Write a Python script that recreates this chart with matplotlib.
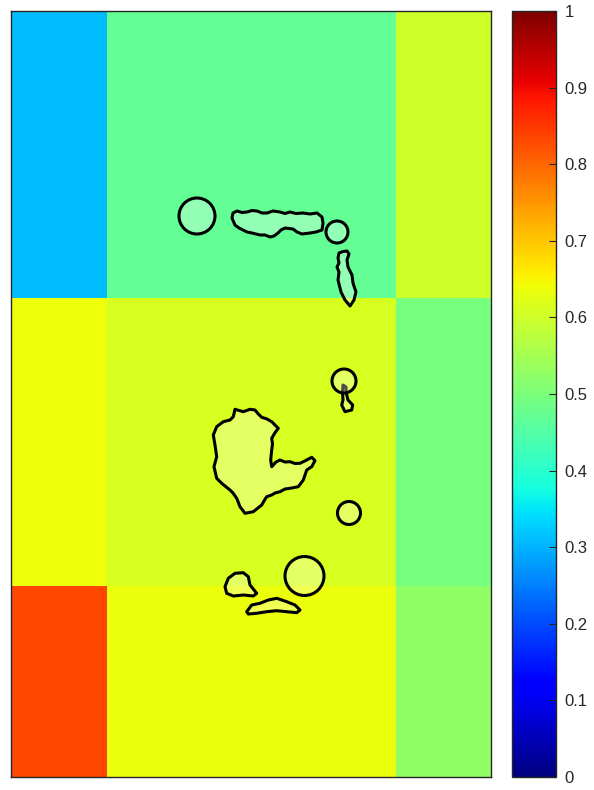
import numpy as np
import matplotlib
matplotlib.use('Agg')
import matplotlib.pyplot as plt
from matplotlib.patches import Polygon, Circle

plt.rcParams['font.family'] = ['Liberation Sans', 'DejaVu Sans']

# grid cell edges (map units) and cell values
x_edges = [11, 107, 396, 491]
y_edges = [11, 298, 586, 777]
cell_values = [
    [0.31, 0.47, 0.60],
    [0.64, 0.61, 0.495],
    [0.835, 0.635, 0.525],
]

# island outlines (x, y) in map units
island_long = [(233, 213), (237, 211), (242, 212.5), (247, 212), (252, 210.5), (257, 211),
               (262, 213), (267, 213), (273, 211), (280, 212), (285, 213.5), (290, 212),
               (296, 213.5), (303, 213), (310, 214), (317, 213), (322, 217), (323, 223),
               (322, 230), (316, 232), (310, 233), (302, 234), (297, 232), (293, 229),
               (285, 228), (281, 230), (278, 233), (274, 236), (270, 237), (265, 235),
               (260, 235), (256, 234), (252, 233), (247, 232), (243, 230), (239, 228),
               (235, 225), (232, 218)]
island_north = [(339, 253), (343, 251.5), (347, 251), (349, 254), (347, 260), (348, 267),
                (352, 275), (353, 283), (356, 292), (354, 300), (350, 306), (345, 300),
                (341, 292), (338, 280), (339, 272), (337, 267), (339, 263), (338, 258)]
island_tail = [(343, 385), (346, 387), (346, 392), (348, 400), (352.7, 405), (351.7, 410),
               (345, 411.7), (341.7, 405), (343, 400), (342.5, 392)]
island_big = [(235, 409.3), (243.3, 411.7), (250, 409.3), (255, 410), (258.3, 414),
              (261.7, 417.3), (267, 419), (271.7, 421.7), (278.3, 428.3), (275, 432.7),
              (271.7, 438.3), (272.5, 444), (271.7, 450), (270.7, 460), (271.7, 466.7),
              (276, 462), (280, 460), (285, 462), (290, 461.7), (295, 463.5), (300, 463.3),
              (306.7, 460), (311.7, 457.3), (315, 460.7), (311.7, 466.7), (306.7, 470),
              (305, 475), (303.3, 480), (298.3, 486.7), (290, 488.3), (285, 489),
              (280, 491.7), (275, 493), (271.7, 495), (266.7, 496.7), (264, 501),
              (261.7, 505), (253.3, 511.7), (245, 513.3), (240, 506.7), (236.7, 498.3),
              (233, 493), (230, 490), (221.7, 483.3), (216.7, 478.3), (214, 466.7),
              (216.7, 456.7), (215, 445), (213.3, 435), (216.7, 426.7), (223.3, 421.7),
              (230, 420), (233.3, 416.7)]
island_west = [(225, 586.7), (228.3, 578.3), (235, 573.3), (243.3, 572.7), (248.3, 576.7),
               (250, 585), (256.7, 593.3), (253.3, 596), (243.3, 595), (233.3, 596),
               (226.7, 593.3)]
island_south = [(246.7, 611.7), (251.7, 605), (260, 603.3), (268.3, 600), (276.7, 598.3),
                (286.7, 601.7), (295, 605), (300, 610), (296.7, 612.7), (286.7, 611.7),
                (276.7, 610.7), (266.7, 611.7), (256.7, 613.3), (248.3, 614)]
islands = [island_long, island_north, island_tail, island_big, island_west, island_south]

# circular sites: centre x, centre y, radius
circle_x = [197, 337, 344, 349, 304.5]
circle_y = [216, 232, 381, 513, 576]
circle_r = [18, 11, 12, 11.5, 19.5]

cbar_ticks = [0, 0.1, 0.2, 0.3, 0.4, 0.5, 0.6, 0.7, 0.8, 0.9, 1]

fig = plt.figure(figsize=(5.94, 7.90), dpi=100)
ax = fig.add_axes([11 / 594, 13 / 790, 480 / 594, 766 / 790])
cax = fig.add_axes([512 / 594, 13 / 790, 44 / 594, 766 / 790])

mesh = ax.pcolormesh(x_edges, y_edges, np.array(cell_values), cmap='jet', vmin=0, vmax=1)

for outline in islands:
    ax.add_patch(Polygon(outline, closed=True, facecolor=(1, 1, 1, 0.3),
                         edgecolor='black', linewidth=2.2, joinstyle='round'))
for cx, cy, r in zip(circle_x, circle_y, circle_r):
    ax.add_patch(Circle((cx, cy), r, facecolor=(1, 1, 1, 0.3),
                        edgecolor='black', linewidth=2.2))

ax.set_xlim(x_edges[0], x_edges[-1])
ax.set_ylim(y_edges[-1], y_edges[0])
ax.set_xticks([])
ax.set_yticks([])
for s in ax.spines.values():
    s.set_color('#262626')
    s.set_linewidth(1.0)

cb = fig.colorbar(mesh, cax=cax, ticks=cbar_ticks)
cb.ax.set_yticklabels(['0', '0.1', '0.2', '0.3', '0.4', '0.5', '0.6', '0.7', '0.8', '0.9', '1'])
cb.ax.tick_params(direction='in', length=5, width=0.8, labelsize=12,
                  colors='#262626', pad=6)
cb.outline.set_edgecolor('#262626')
cb.outline.set_linewidth(1.0)

fig.savefig('out.png', dpi=100)
